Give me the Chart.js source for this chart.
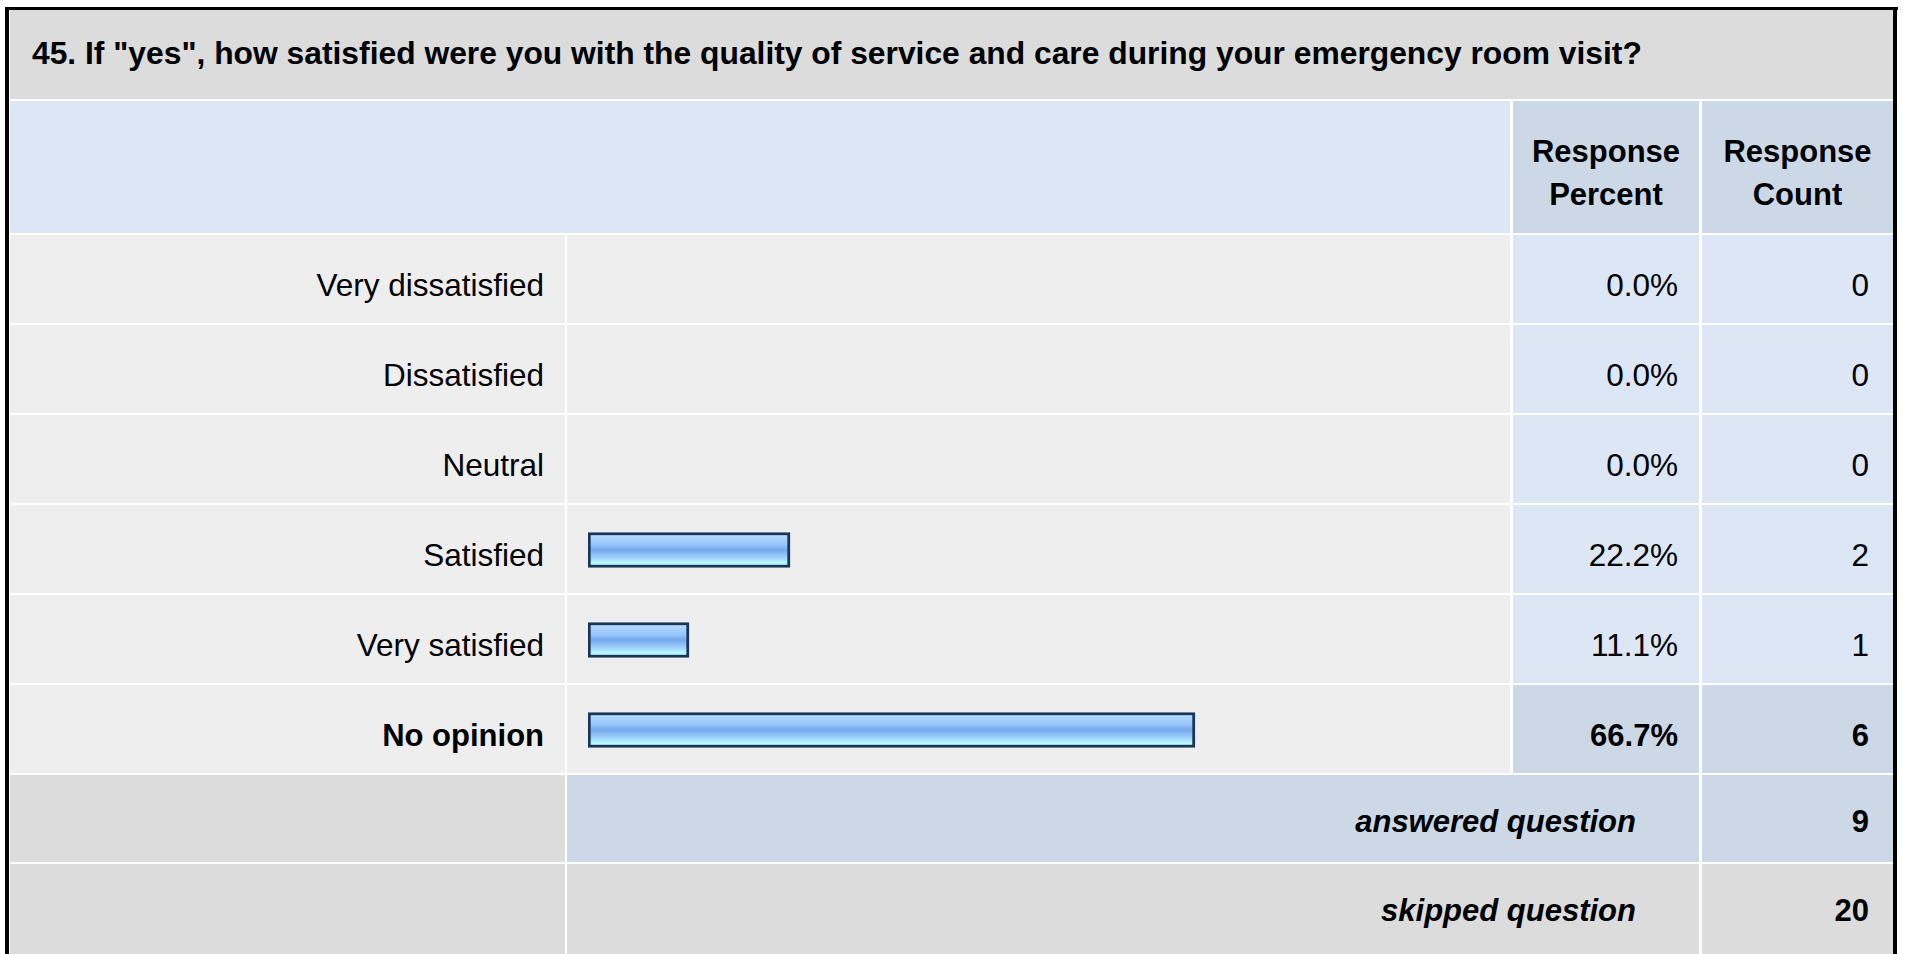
<!DOCTYPE html>
<html>
<head>
<meta charset="utf-8">
<script src="https://cdn.jsdelivr.net/npm/chart.js@4/dist/chart.umd.min.js"></script>
<style>
  html,body{margin:0;padding:0;}
  body{background:#fff;width:1907px;height:954px;overflow:hidden;position:relative;font-family:"Liberation Sans",Arial,Helvetica,sans-serif;}
  .c{position:absolute;box-sizing:border-box;display:flex;align-items:center;color:#000;font-size:31.5px;white-space:nowrap;}
  .ln{position:absolute;background:#000;}
  #bars{position:absolute;left:567px;top:235px;}
</style>
</head>
<body>
<canvas id="bars" width="943" height="540"></canvas>
<script>
// ---- data ----
const questionTitle = '45. If "yes", how satisfied were you with the quality of service and care during your emergency room visit?';
const headerLabels = ["Response<br>Percent", "Response<br>Count"];
const categories = ["Very dissatisfied", "Dissatisfied", "Neutral", "Satisfied", "Very satisfied", "No opinion"];
const responsePercent = [0.0, 0.0, 0.0, 22.2, 11.1, 66.7];
const responseCount = [0, 0, 0, 2, 1, 6];
const summaryLabels = ["answered question", "skipped question"];
const summaryCounts = [9, 20];

// ---- table cells (layout) ----
const body = document.body;
function cell(x1, y1, x2, y2, bg, html, style) {
  const d = document.createElement('div');
  d.className = 'c';
  d.style.left = x1 + 'px'; d.style.top = y1 + 'px';
  d.style.width = (x2 - x1) + 'px'; d.style.height = (y2 - y1) + 'px';
  d.style.background = bg;
  if (html !== undefined) d.innerHTML = html;
  Object.assign(d.style, style || {});
  body.insertBefore(d, document.getElementById('bars'));
  return d;
}
const GRAY = '#dcdcdc', LIGHT = '#eeeeee', BLUE = '#dce6f4', BLUE2 = '#cdd8e6';

// title
cell(10, 10, 1893, 99, GRAY, questionTitle, {fontWeight:'bold', fontSize:'31.8px', paddingLeft:'22px', paddingBottom:'3px'});
// header row
cell(10, 101, 1510, 233, BLUE);
cell(1513, 101, 1699, 233, BLUE2, headerLabels[0], {fontWeight:'bold', fontSize:'31px', justifyContent:'center', textAlign:'center', lineHeight:'43px', paddingTop:'12px'});
cell(1702, 101, 1893, 233, BLUE2, headerLabels[1], {fontWeight:'bold', fontSize:'31px', justifyContent:'center', textAlign:'center', lineHeight:'43px', paddingTop:'12px'});

const maxIdx = responsePercent.indexOf(Math.max(...responsePercent));
categories.forEach((cat, i) => {
  const y1 = 235 + 90 * i, y2 = y1 + 88;
  const bold = i === maxIdx ? {fontWeight:'bold', fontSize:'31px'} : {};
  const valBg = i === maxIdx ? BLUE2 : BLUE;
  cell(10, y1, 565, y2, LIGHT, cat, Object.assign({justifyContent:'flex-end', paddingRight:'21px', paddingTop:'13px'}, bold));
  cell(567, y1, 1510, y2, LIGHT);
  cell(1513, y1, 1699, y2, valBg, responsePercent[i].toFixed(1) + '%', Object.assign({justifyContent:'flex-end', paddingRight:'21px', paddingTop:'13px'}, bold));
  cell(1702, y1, 1893, y2, valBg, String(responseCount[i]), Object.assign({justifyContent:'flex-end', paddingRight:'24px', paddingTop:'13px'}, bold));
});
// summary rows
cell(10, 775, 565, 862, GRAY);
cell(567, 775, 1699, 862, BLUE2, summaryLabels[0], {justifyContent:'flex-end', paddingRight:'63px', fontWeight:'bold', fontSize:'31px', fontStyle:'italic', paddingTop:'6px'});
cell(1702, 775, 1893, 862, BLUE2, String(summaryCounts[0]), {justifyContent:'flex-end', paddingRight:'24px', fontWeight:'bold', fontSize:'31px', paddingTop:'6px'});
cell(10, 864, 565, 960, GRAY);
cell(567, 864, 1699, 960, GRAY, summaryLabels[1], {justifyContent:'flex-end', paddingRight:'63px', fontWeight:'bold', fontSize:'31px', fontStyle:'italic', paddingTop:'6px', paddingBottom:'8px'});
cell(1702, 864, 1893, 960, GRAY, String(summaryCounts[1]), {justifyContent:'flex-end', paddingRight:'24px', fontWeight:'bold', fontSize:'31px', paddingTop:'6px', paddingBottom:'8px'});

// outer frame
[[5,7,4,960],[5,7,1893,3],[1893,7,4,960]].forEach(([x,y,w,h]) => {
  const l = document.createElement('div'); l.className = 'ln';
  l.style.left = x + 'px'; l.style.top = y + 'px'; l.style.width = w + 'px'; l.style.height = h + 'px';
  body.appendChild(l);
});

// ---- bars via Chart.js ----
const BAR_H = 35;
function barFill(c) {
  if (!(c.raw > 0)) return 'rgba(0,0,0,0)';
  const chart = c.chart;
  const ys = chart.scales && chart.scales.y;
  if (!ys || c.dataIndex === undefined) return '#94c4fa';
  const yc = ys.getPixelForValue(c.dataIndex);
  if (!isFinite(yc)) return '#94c4fa';
  const g = chart.ctx.createLinearGradient(0, yc - BAR_H / 2, 0, yc + BAR_H / 2);
  g.addColorStop(0.00, '#c8e6ff');
  g.addColorStop(0.15, '#acd4ff');
  g.addColorStop(0.35, '#96c6fb');
  g.addColorStop(0.50, '#74a8ee');
  g.addColorStop(0.62, '#8ec0f7');
  g.addColorStop(0.76, '#a6d8ff');
  g.addColorStop(0.86, '#b4f8ff');
  g.addColorStop(1.00, '#b6ffff');
  return g;
}
new Chart(document.getElementById('bars'), {
  type: 'bar',
  data: {
    labels: categories,
    datasets: [{
      data: responsePercent,
      backgroundColor: barFill,
      borderColor: c => (c.raw > 0 ? '#1a355a' : 'rgba(0,0,0,0)'),
      borderWidth: c => (c.raw > 0 ? 3 : 0),
      borderSkipped: false,
      barThickness: BAR_H
    }]
  },
  options: {
    indexAxis: 'y',
    responsive: false,
    animation: false,
    devicePixelRatio: 1,
    layout: { padding: { left: 21, right: 12, top: 0, bottom: 0 } },
    scales: {
      x: { display: false, min: 0, max: 100 },
      y: { display: false }
    },
    plugins: { legend: { display: false }, tooltip: { enabled: false } }
  }
});
</script>
</body>
</html>
